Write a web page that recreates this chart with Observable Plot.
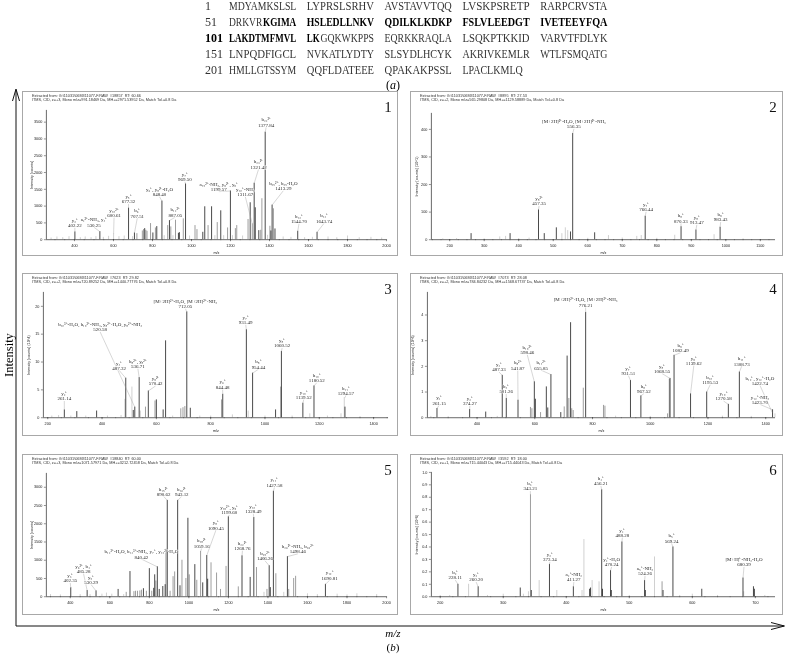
<!DOCTYPE html>
<html><head><meta charset="utf-8">
<script src="https://cdn.jsdelivr.net/npm/d3@7"></script>
<script src="https://cdn.jsdelivr.net/npm/@observablehq/plot@0.6"></script>
<style>
body{margin:0;background:#fff}
#page{position:relative;width:786px;height:654px;overflow:hidden;font-family:"Liberation Serif",serif;filter:grayscale(100%)}
.panel{position:absolute;border:1px solid #a8a8a8;box-sizing:border-box;background:#fff}
.ttl{position:absolute;font-family:"Liberation Sans",sans-serif;font-size:3.8px;color:#333;white-space:pre;line-height:4px}
.num{position:absolute;font-family:"Liberation Serif",serif;font-size:15px;line-height:16px;color:#111}
.panel svg{position:absolute;left:-1px;top:-1px;overflow:visible}
.layer{position:absolute;left:0;top:0}
</style></head>
<body><div id="page"></div>
<script>
// ---------- sequence (a) ----------
const seqNums = ["1","51","101","151","201"];
const seqLines = [
 ["MDYAMKSLSL","LYPRSLSRHV","AVSTAVVTQQ","LVSKPSRETP","RARPCRVSTA"],
 ["DRKVRKGIMA","HSLEDLLNKV","QDILKLKDKP","FSLVLEEDGT","IVETEEYFQA"],
 ["LAKDTMFMVL","LKGQKWKPPS","EQRKKRAQLA","LSQKPTKKID","VARVTFDLYK"],
 ["LNPQDFIGCL","NVKATLYDTY","SLSYDLHCYK","AKRIVKEMLR","WTLFSMQATG"],
 ["HMLLGTSSYM","QQFLDATEEE","QPAKAKPSSL","LPACLKMLQ"]
];
const boldRange = [56, 112];

// ---------- spectra: [m/z, intensity, kind]  m = matched ion, u = unmatched, n = noise ----------
const peaks1 = [
[280,50,"n"],[310,80,"n"],[340,60,"n"],[372,90,"n"],[402.22,230,"m"],[430,60,"n"],[455,80,"n"],[485,60,"n"],[510,90,"n"],[530.25,240,"m"],[548,70,"n"],[575,100,"n"],[600.61,170,"n"],[628,90,"n"],[655,110,"n"],[677.32,940,"m"],[698,90,"n"],[707.51,200,"m"],[720,180,"u"],[748,260,"u"],[754,300,"u"],[760,330,"m"],[766,280,"u"],[772,250,"u"],[790,480,"u"],[802,200,"m"],[815,350,"u"],[822,390,"m"],[848.40,1150,"m"],[860,120,"n"],[878,420,"u"],[887.05,570,"m"],[894,380,"u"],[905,120,"n"],[918,580,"u"],[933,190,"m"],[938,210,"m"],[958,620,"u"],[969.50,1660,"m"],[990,110,"n"],[1018,420,"u"],[1028,300,"u"],[1058,220,"m"],[1068,980,"m"],[1085,420,"u"],[1103,980,"m"],[1120,120,"n"],[1132,510,"u"],[1150,860,"m"],[1165,120,"n"],[1185,350,"u"],[1199.57,1450,"m"],[1210,120,"n"],[1225,330,"u"],[1232,420,"u"],[1262,110,"n"],[1290,600,"u"],[1301,1100,"m"],[1311.67,470,"u"],[1321.42,1680,"m"],[1327,950,"m"],[1345,270,"m"],[1355,280,"u"],[1361,1220,"u"],[1377.84,3200,"m"],[1390,130,"n"],[1402,400,"u"],[1407,260,"m"],[1413.29,1030,"m"],[1420,920,"u"],[1428,320,"m"],[1470,80,"n"],[1510,70,"n"],[1544.70,250,"m"],[1580,60,"n"],[1620,70,"n"],[1643.74,220,"m"],[1700,80,"n"],[1745,60,"n"],[1800,110,"n"],[1860,60,"n"],[1920,70,"n"],[1975,50,"n"]
];
// labels: [peak m/z, peak intensity, ion, value, label m/z, label intensity]
const labels1 = [
[402.22,230,"y₃⁺","402.22",402,360],
[530.25,240,"a₄²⁺-NH₃, y₄⁺","530.25",500,370],
[600.61,170,"y₁₀²⁺","600.61",603,660],
[677.32,940,"y₅⁺","677.32",677,1065],
[707.51,200,"b₆⁺","707.51",722,640],
[848.40,1150,"y₆⁺, y₈²⁺-H₂O","848.40",836,1280],
[887.05,570,"b₁₄²⁺","887.05",917,670],
[969.50,1660,"y₇⁺","969.50",966,1725],
[1199.57,1450,"a₁₅²⁺-NH₃, y₉²⁺, y₉⁺","1199.57",1140,1430],
[1311.67,470,"y₁₀⁺-NH₃","1311.67",1276,1280],
[1321.42,1680,"b₂₃²⁺","1321.42",1344,2100],
[1377.84,3200,"b₂₄²⁺","1377.84",1383,3350],
[1413.29,1030,"b₂₅²⁺, b₂₅-H₂O","1413.29",1471,1460],
[1544.70,250,"b₁₃⁺","1544.70",1551,470],
[1643.74,220,"b₁₄⁺","1643.74",1680,490]
];

const peaks2 = [
[180,3,"n"],[220,4,"n"],[262,22,"m"],[300,3,"n"],[345,10,"n"],[362,12,"n"],[375,22,"m"],[400,4,"n"],[430,6,"n"],[457.35,108,"m"],[474,22,"m"],[509,43,"m"],[525,22,"n"],[535,43,"n"],[542,33,"n"],[550,28,"m"],[556.35,385,"m"],[600,5,"n"],[620,25,"m"],[660,15,"n"],[700,6,"n"],[742,12,"n"],[755,15,"n"],[766.44,85,"m"],[800,5,"n"],[852,16,"n"],[870.33,47,"m"],[913.47,35,"m"],[966,18,"n"],[983.43,45,"m"],[1050,3,"n"]
];
const labels2 = [
[556.35,385,"[M+2H]²⁺-H₂O, [M+2H]²⁺-NH₃","556.35",560,402],
[457.35,108,"y₈²⁺","457.35",459,122],
[766.44,85,"y₇⁺","766.44",769,101],
[870.33,47,"b₈⁺","870.33",870,60],
[913.47,35,"y₈⁺","913.47",916,54],
[983.43,45,"b₉⁺","983.43",985,64]
];

const peaks3 = [
[215,0.3,"n"],[240,0.4,"n"],[261.14,1.4,"m"],[285,0.3,"n"],[307,1.1,"m"],[340,0.3,"n"],[380,1.2,"m"],[420,0.3,"n"],[470,0.4,"n"],[484,3.3,"n"],[487.32,7.1,"m"],[510,5.5,"n"],[515,1.3,"m"],[520.58,1.9,"m"],[536.71,7.2,"m"],[541,1.2,"n"],[560,1.9,"u"],[570.42,4.8,"m"],[595,3.0,"u"],[600,3.2,"m"],[625,1.4,"m"],[634,13.8,"m"],[660,0.3,"n"],[690,1.6,"u"],[698,1.8,"u"],[705,2.0,"u"],[712.05,19.0,"m"],[725,1.7,"m"],[760,0.3,"n"],[800,0.3,"n"],[840,3.2,"u"],[844.48,4.2,"m"],[880,0.5,"n"],[931.49,15.8,"m"],[938,1.2,"n"],[954.44,8.0,"m"],[1000,0.3,"n"],[1039,1.4,"m"],[1058,5.5,"u"],[1060.52,11.9,"m"],[1100,0.3,"n"],[1139.52,2.6,"m"],[1165,0.7,"n"],[1180.52,5.7,"m"],[1230,0.3,"n"],[1280,0.7,"n"],[1292,3.6,"n"],[1294.57,1.9,"m"],[1350,0.2,"n"]
];
const labels3 = [
[261.14,1.4,"y₂⁺","261.14",261,3.0],
[520.58,1.9,"b₁₀³⁺-H₂O, b₁₀³⁺-NH₃, y₈²⁺-H₂O, y₈²⁺-NH₃","520.58",393,15.4],
[487.32,7.1,"y₄⁺","487.32",463,8.5],
[536.71,7.2,"b₈²⁺, y₈²⁺","536.71",532,8.8],
[570.42,4.8,"y₉²⁺","570.42",597,5.7],
[712.05,19.0,"[M+2H]²⁺-H₂O, [M+2H]²⁺-NH₃","712.05",707,19.6],
[844.48,4.2,"y₆⁺","844.48",844,5.1],
[931.49,15.8,"y₇⁺","931.49",929,16.7],
[954.44,8.0,"b₈⁺","954.44",976,8.7],
[1060.52,11.9,"y₈⁺","1060.52",1063,12.5],
[1139.52,2.6,"y₁₀⁺","1139.52",1143,3.3],
[1180.52,5.7,"b₁₀⁺","1180.52",1191,6.3],
[1294.57,3.6,"b₁₁⁺","1294.57",1298,4.0]
];

const peaks4 = [
[240,0.05,"n"],[261.15,0.36,"m"],[300,0.04,"n"],[374.27,0.32,"m"],[430,0.22,"m"],[470,0.05,"n"],[487.33,1.65,"m"],[501.26,0.75,"m"],[541.87,0.68,"m"],[585,0.4,"u"],[590,0.35,"u"],[598.46,1.4,"m"],[602,0.72,"m"],[620,0.2,"u"],[640,1.2,"m"],[645,0.38,"m"],[655.85,1.68,"m"],[690,0.2,"m"],[702,0.42,"u"],[712,2.4,"m"],[718,0.75,"u"],[724,3.7,"m"],[728,0.35,"u"],[733,0.28,"u"],[768,1.15,"u"],[776.21,4.1,"m"],[838,0.48,"u"],[843,0.45,"u"],[880,0.06,"n"],[931.51,1.45,"m"],[967.52,0.85,"m"],[1000,0.05,"n"],[1060,0.15,"u"],[1066,1.5,"u"],[1068.55,1.53,"m"],[1082.49,2.43,"m"],[1139.62,0.93,"m"],[1195.53,1.0,"m"],[1250,0.06,"n"],[1270.58,0.52,"m"],[1308.73,1.78,"m"],[1350,0.05,"n"],[1423.70,0.31,"m"],[1432,0.15,"n"]
];
const labels4 = [
[261.15,0.36,"y₂⁺","261.15",269,0.49],
[374.27,0.32,"y₃⁺","374.27",375,0.46],
[487.33,1.65,"y₄⁺","487.33",476,1.78],
[501.26,0.75,"b₄⁺","501.26",501,0.93],
[541.87,0.68,"b₈²⁺","541.87",541,1.85],
[598.46,1.4,"b₁₀²⁺","598.46",574,2.45],
[655.85,1.68,"b₁₁²⁺","655.85",622,1.85],
[776.21,4.1,"[M+2H]²⁺-H₂O, [M+2H]²⁺-NH₃","776.21",776,4.3],
[931.51,1.45,"y₇⁺","931.51",924,1.65],
[967.52,0.85,"b₈⁺","967.52",978,0.94],
[1068.55,1.53,"y₈⁺","1068.55",1041,1.72],
[1082.49,2.43,"b₉⁺","1082.49",1105,2.53],
[1139.62,0.93,"y₉⁺","1139.62",1151,2.04],
[1195.53,1.0,"b₁₀⁺","1195.53",1208,1.29],
[1270.58,0.52,"y₁₀⁺","1270.58",1254,0.65],
[1308.73,1.78,"b₁₁⁺","1308.73",1317,2.01],
[1422.74,0.2,"b₁₂⁺, y₁₂⁺-H₂O","1422.74",1380,1.26],
[1423.70,0.31,"y₁₂⁺-NH₃","1423.70",1380,0.52]
];

const peaks5 = [
[300,60,"n"],[350,50,"n"],[402.35,245,"m"],[450,60,"n"],[485.28,170,"m"],[500,60,"n"],[530.29,160,"m"],[560,70,"n"],[583,100,"n"],[610,70,"n"],[642,200,"m"],[670,60,"n"],[683,120,"u"],[702,690,"m"],[722,140,"u"],[730,150,"u"],[740,150,"u"],[752,160,"u"],[760,180,"u"],[770,220,"m"],[785,150,"u"],[800,770,"m"],[812,150,"u"],[822,230,"m"],[827,600,"m"],[833,430,"u"],[840.42,820,"m"],[850,200,"m"],[868,280,"m"],[880,330,"m"],[884,1300,"u"],[890.62,2640,"m"],[905,150,"u"],[920,550,"u"],[928,680,"u"],[943.12,2640,"m"],[955,300,"m"],[965,1000,"u"],[985,500,"u"],[995,2150,"m"],[1002,600,"u"],[1030,880,"m"],[1040,450,"u"],[1059.16,1240,"u"],[1070,380,"m"],[1090.45,1130,"m"],[1095,480,"m"],[1112,930,"u"],[1140,650,"u"],[1160,200,"u"],[1188,830,"u"],[1199.60,2190,"m"],[1250,270,"u"],[1268.76,1120,"m"],[1310,530,"m"],[1328.49,2170,"m"],[1342,800,"u"],[1380,120,"n"],[1395,200,"u"],[1406.26,850,"m"],[1412,250,"m"],[1427.58,2890,"m"],[1440,630,"u"],[1480,120,"n"],[1498.46,1100,"m"],[1505,200,"u"],[1530,500,"u"],[1540,560,"u"],[1600,80,"n"],[1650,60,"n"],[1690.81,340,"m"],[1750,70,"n"],[1800,50,"n"],[1850,80,"n"],[1950,60,"n"]
];
const labels5 = [
[402.35,245,"y₃⁺","402.35",400,380],
[485.28,170,"y₆²⁺, b₄⁺","485.28",467,633],
[530.29,160,"y₅⁺","530.29",505,335],
[840.42,820,"b₁₄³⁺-H₂O, b₁₄³⁺-NH₃, y₇⁺, y₁₂²⁺-H₂O","840.42",760,1030],
[890.62,2640,"b₁₅²⁺","890.62",872,2750],
[943.12,2640,"b₁₆²⁺","943.12",964,2750],
[1059.16,1240,"b₁₈²⁺","1059.16",1065,1330],
[1090.45,1130,"y₈⁺","1090.45",1137,1826],
[1199.60,2190,"y₁₉²⁺, y₉⁺","1199.60",1204,2240],
[1268.76,1120,"b₂₂²⁺","1268.76",1271,1266],
[1328.49,2170,"y₁₀⁺","1328.49",1326,2280],
[1406.26,850,"b₂₅²⁺","1406.26",1385,985],
[1427.58,2890,"y₁₁⁺","1427.58",1433,3000],
[1498.46,1100,"b₂₆²⁺-NH₃, b₂₆²⁺","1498.46",1551,1175],
[1690.81,340,"y₁₂⁺","1690.81",1712,452]
];

const peaks6 = [
[200,0.01,"n"],[215,0.01,"n"],[228.11,0.10,"m"],[245,0.10,"n"],[260.20,0.08,"m"],[275,0.01,"n"],[300,0.02,"n"],[327,0.07,"m"],[332,0.02,"n"],[340,0.04,"n"],[343.21,0.82,"u"],[344.5,0.05,"m"],[357,0.13,"n"],[373.34,0.26,"m"],[385,0.05,"n"],[411.27,0.08,"m"],[425,0.05,"n"],[428,0.46,"n"],[437,0.06,"m"],[438.5,0.07,"m"],[441,0.13,"n"],[452,0.12,"n"],[456.21,0.86,"m"],[457.5,0.06,"m"],[470.24,0.21,"m"],[471.5,0.05,"m"],[488.28,0.44,"m"],[500,0.01,"n"],[524.26,0.13,"m"],[525.5,0.05,"m"],[540,0.32,"n"],[552,0.12,"u"],[553.5,0.05,"m"],[569.24,0.40,"m"],[580,0.01,"n"],[600,0.02,"n"],[615,0.06,"m"],[640,0.01,"n"],[680.39,0.15,"m"],[681.5,0.04,"n"],[697,0.08,"m"],[698.5,0.06,"m"],[715,0.01,"n"]
];
const labels6 = [
[228.11,0.10,"b₂⁺","228.11",224,0.134],
[260.20,0.08,"y₂⁺","260.20",257,0.118],
[343.21,0.82,"b₃⁺","343.21",343,0.85],
[373.34,0.26,"y₃⁺","373.34",374,0.28],
[411.27,0.08,"a₄⁺-NH₃","411.27",412,0.118],
[456.21,0.86,"b₄⁺","456.21",455,0.89],
[470.24,0.21,"y₄⁺-H₂O","470.24",472,0.24],
[488.28,0.44,"y₄⁺","488.28",489,0.476],
[524.26,0.13,"a₅⁺-NH₃","524.26",525,0.167],
[569.24,0.40,"b₅⁺","569.24",567,0.43],
[680.39,0.15,"[M+H]⁺-NH₃-H₂O","680.39",682,0.24]
];

const titles = [
 ["Extracted from: G:\\11031\\06M311077-F.RAW  #18857  RT: 60.66","ITMS, CID, z=+3, Mono m/z=991.18469 Da, MH+=2971.53952 Da, Match Tol.=0.8 Da"],
 ["Extracted from: G:\\11031\\06M311077-F.RAW  #8895  RT: 27.53","ITMS, CID, z=+2, Mono m/z=565.29808 Da, MH+=1129.58889 Da, Match Tol.=0.8 Da"],
 ["Extracted from: G:\\11031\\06M311077-F.RAW  #7623  RT: 29.82","ITMS, CID, z=+2, Mono m/z=720.89252 Da, MH+=1440.77776 Da, Match Tol.=0.8 Da"],
 ["Extracted from: G:\\11031\\06M311077-F.RAW  #7073  RT: 28.08","ITMS, CID, z=+2, Mono m/z=784.84232 Da, MH+=1568.67737 Da, Match Tol.=0.8 Da"],
 ["Extracted from: G:\\11031\\06M311077-F.RAW  #18840  RT: 60.00","ITMS, CID, z=+3, Mono m/z=1071.57971 Da, MH+=3212.72458 Da, Match Tol.=0.8 Da"],
 ["Extracted from: G:\\11031\\06M311077-F.RAW  #3592  RT: 18.00","ITMS, CID, z=+1, Mono m/z=715.44043 Da, MH+=715.44043 Da, Match Tol.=0.8 Da"]
];
const yLabels = ["Intensity [counts]","Intensity [counts] (10^1)","Intensity [counts] (10^4)","Intensity [counts] (10^6)","Intensity [counts]","Intensity [counts] (10^6)"];

// ---------- page ----------
const page = d3.select("#page");

// sequence: each run of same weight is scaled horizontally to a fixed character pitch
const CH = 6.8, BLOCK = 77.8, X0 = 229, NUMX = 205, LINE0 = 9.5, LH = 16;
const seq = page.append("svg").attr("class","layer").attr("width",786).attr("height",96)
  .attr("font-family","Liberation Serif").attr("font-size",12);
const isBold = r => r >= boldRange[0] && r <= boldRange[1];
seqLines.forEach((blocks, i) => {
  const y = LINE0 + i * LH;
  const start = +seqNums[i];
  seq.append("text").attr("x", NUMX).attr("y", y).text(seqNums[i])
    .attr("font-weight", isBold(start) ? "bold" : null)
    .attr("fill", isBold(start) ? "#000" : "#333");
  blocks.forEach((blk, j) => {
    let runs = [], cur = null;
    [...blk].forEach((c, k) => {
      const b = isBold(start + j * 10 + k);
      if (!cur || cur.b !== b) { cur = {b, k, s: ""}; runs.push(cur); }
      cur.s += c;
    });
    runs.forEach(r => {
      const t = seq.append("text").attr("x", 0).attr("y", 0)
        .attr("font-weight", r.b ? "bold" : null).attr("fill", r.b ? "#000" : "#333")
        .text(r.s);
      const natural = t.node().getComputedTextLength();
      const target = r.s.length * CH - 0.7;
      t.attr("transform", `translate(${X0 + j * BLOCK + r.k * CH},${y}) scale(${target / natural},1)`);
    });
  });
});
const ta = seq.append("text").attr("x",393).attr("y",89).attr("text-anchor","middle").attr("font-size",12);
ta.append("tspan").text("(");
ta.append("tspan").attr("font-style","italic").text("a");
ta.append("tspan").text(")");

// big axes
const ov = page.append("svg").attr("class","layer").attr("width",786).attr("height",654)
  .attr("font-family","Liberation Serif");
ov.append("line").attr("x1",16).attr("y1",626).attr("x2",16).attr("y2",90).attr("stroke","#111").attr("stroke-width",1);
ov.append("path").attr("d","M12.5,101 L16,89 L19.5,101").attr("fill","none").attr("stroke","#111").attr("stroke-width",1);
ov.append("line").attr("x1",16).attr("y1",626).attr("x2",784).attr("y2",626).attr("stroke","#111").attr("stroke-width",1);
ov.append("path").attr("d","M771,622.5 L784.5,626 L771,629.5").attr("fill","none").attr("stroke","#111").attr("stroke-width",1);
ov.append("text").attr("transform","translate(13,355) rotate(-90)").attr("text-anchor","middle")
  .attr("font-size",12.5).text("Intensity");
ov.append("text").attr("x",393).attr("y",637).attr("text-anchor","middle").attr("font-size",11)
  .attr("font-style","italic").text("m/z");
const tb = ov.append("text").attr("x",393).attr("y",651).attr("text-anchor","middle").attr("font-size",11);
tb.append("tspan").text("(");
tb.append("tspan").attr("font-style","italic").text("b");
tb.append("tspan").text(")");

// panels
const COLX = [22, 410], COLW = [376, 373];
const ROWY = [91, 273, 454], ROWH = [165, 163, 161];
const layouts = [
 {col:0,row:0,m:[19,10,16,24],xd:[256,2000],yd:[0,3850],xt:d3.range(400,2001,200),xm:d3.range(300,2001,50),yt:d3.range(0,3501,500),yf:d3.format("d")},
 {col:1,row:0,m:[22,6,16,21],xd:[147,1144],yd:[0,458],xt:d3.range(200,1101,100),xm:d3.range(150,1144,25),yt:d3.range(0,401,100),yf:d3.format("d")},
 {col:0,row:1,m:[19,8,18,21],xd:[184,1455],yd:[0,22.5],xt:d3.range(200,1401,200),xm:d3.range(200,1455,50),yt:d3.range(0,21,5),yf:d3.format("d")},
 {col:1,row:1,m:[19,6,18,17],xd:[228,1434],yd:[0,4.88],xt:d3.range(400,1401,200),xm:d3.range(250,1434,50),yt:d3.range(0,5,1),yf:d3.format("d")},
 {col:0,row:2,m:[19,10,18,24],xd:[279,2000],yd:[0,3380],xt:d3.range(400,2001,200),xm:d3.range(300,2001,50),yt:d3.range(0,3001,500),yf:d3.format("d")},
 {col:1,row:2,m:[18,6,18,21],xd:[186,732],yd:[0,1.0],xt:d3.range(200,701,100),xm:d3.range(200,732,20),yt:d3.range(0,1.001,0.1),yf:d3.format(".1f")}
];
const allPeaks = [peaks1,peaks2,peaks3,peaks4,peaks5,peaks6];
const allLabels = [labels1,labels2,labels3,labels4,labels5,labels6];
const tone = {n:"#c4c4c4", u:"#858585", m:"#1a1a1a"};

layouts.forEach((L, i) => {
  const left = COLX[L.col], top = ROWY[L.row], w = COLW[L.col], h = ROWH[L.row];
  const div = page.append("div").attr("class","panel")
    .style("left", left+"px").style("top", top+"px").style("width", w+"px").style("height", h+"px");
  div.append("div").attr("class","ttl").style("left","9px").style("top","1.5px")
    .text(titles[i][0] + "\n" + titles[i][1]);
  div.append("div").attr("class","num").style("left",(w-16)+"px").style("top","7px")
    .style("width","10px").style("text-align","center").text(String(i+1));
  const pk = allPeaks[i], lb = allLabels[i];
  const [mT, mR, mB, mL] = L.m;
  const chart = Plot.plot({
    width: w, height: h, marginTop: mT, marginRight: mR, marginBottom: mB, marginLeft: mL,
    style: {background: "transparent", fontFamily: "Liberation Sans", overflow: "visible"},
    x: {domain: L.xd}, y: {domain: L.yd},
    marks: [
      ["n","u","m"].map(k => Plot.ruleX(pk.filter(d => d[2] === k), {x: d => d[0], y1: 0, y2: d => d[1], stroke: tone[k], strokeWidth: 0.8})),
      Plot.ruleY([0], {stroke: "#000", strokeWidth: 0.6}),
      Plot.ruleX([L.xd[0]], {y1: L.yd[0], y2: L.yd[1], stroke: "#000", strokeWidth: 0.6}),
      Plot.axisX({ticks: L.xm, tickSize: 1, tickFormat: () => "", label: null, stroke: "#222", strokeWidth: 0.4}),
      Plot.axisX({ticks: L.xt, tickSize: 2, tickPadding: 2.5, fontSize: 3.8, tickFormat: d3.format("d"), fill: "#222", stroke: "#222", strokeWidth: 0.5,
        label: "m/z", labelAnchor: "center", labelArrow: false, labelOffset: 14}),
      Plot.axisY({ticks: L.yt, tickSize: 2, tickPadding: 2, fontSize: 3.8, tickFormat: L.yf, fill: "#222", stroke: "#222", strokeWidth: 0.5,
        label: yLabels[i], labelAnchor: "center", labelArrow: false, labelOffset: 16}),
      Plot.link(lb, {x1: d => d[4], y1: d => d[5], x2: d => d[0], y2: d => d[1], stroke: "#999", strokeWidth: 0.4}),
      Plot.text(lb, {x: d => d[4], y: d => d[5], text: d => d[2] + "\n" + d[3], lineAnchor: "bottom", dy: -0.6,
        fontFamily: "Liberation Serif", fontSize: 5, lineHeight: 1.05, fill: "#2a2a2a", stroke: "#fff", strokeWidth: 0.8, paintOrder: "stroke"})
    ]
  });
  div.node().appendChild(chart);
});
</script>
</body></html>
